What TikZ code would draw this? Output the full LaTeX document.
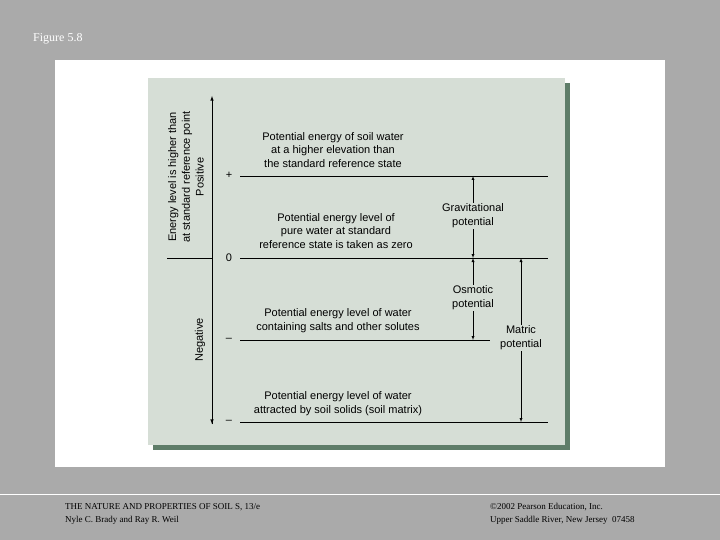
\documentclass[tikz,border=0pt]{standalone}
\usepackage{fontspec}
\setmainfont{Liberation Sans}
\newfontfamily\serif{Liberation Serif}
\definecolor{bgg}{RGB}{170,170,170}
\definecolor{panel}{RGB}{214,222,214}
\definecolor{shadow}{RGB}{95,125,105}
\begin{document}
\begin{tikzpicture}[x=1pt,y=-1pt,
 lab/.style={align=center,font=\fontsize{11}{13.8}\selectfont,inner sep=1pt},
 foot/.style={font=\serif\fontsize{9}{10}\selectfont,anchor=west,inner sep=0pt},
 lvl/.style={line width=0.8pt},
 dim/.style={-latex,line width=0.4pt}]
\useasboundingbox (0,0) rectangle (720,540);
\fill[bgg] (0,0) rectangle (720,540);
\fill[white] (55,60) rectangle (665,467);
\fill[shadow] (153,83) rectangle (570,450);
\fill[panel] (148,78) rectangle (565,445);
\draw[white,line width=0.6pt] (0,494) -- (720,494);
\node[foot,text=white,font=\serif\fontsize{12}{13}\selectfont] (fig) at (33,39) {Figure 5.8};
\node[foot] (f1) at (65,507) {THE NATURE AND PROPERTIES OF SOIL S, 13/e};
\node[foot] (f2) at (65,520) {Nyle C. Brady and Ray R. Weil};
\node[foot] (f3) at (490,507) {\textcopyright2002 Pearson Education, Inc.};
\node[foot] (f4) at (490,520) {Upper Saddle River, New Jersey\ \ 07458};
% axis
\coordinate (atop) at (212,96);
\coordinate (abot) at (212,424);
\draw[-latex,line width=0.6pt] (abot) -- (atop);
\draw[-latex,line width=0.6pt] (212,258) -- (abot);
% levels
\coordinate (p1) at (240,176); \coordinate (p2) at (548,176);
\coordinate (z1) at (240,258); \coordinate (z2) at (548,258);
\coordinate (s1) at (240,340); \coordinate (s2) at (490,340);
\coordinate (m1) at (240,422); \coordinate (m2) at (548,422);
\draw[lvl] (p1) -- (p2); \draw[lvl] (z1) -- (z2); \draw[lvl] (s1) -- (s2); \draw[lvl] (m1) -- (m2);
\draw[lvl] (167,258) -- (212,258);
\node[lab] (plus) at (229,175) {+};
\node[lab] (zero) at (229,258) {0};
\node[lab] (min1) at (229,340) {--};
\node[lab] (min2) at (229,422) {--};
\node[lab] (t1) at (333,150) {Potential energy of soil water\\at a higher elevation than\\the standard reference state};
\node[lab] (t2) at (336,231) {Potential energy level of\\pure water at standard\\reference state is taken as zero};
\node[lab] (t3) at (338,321) {Potential energy level of water\\containing salts and other solutes};
\node[lab] (t4) at (338,404) {Potential energy level of water\\attracted by soil solids (soil matrix)};
\node[lab,rotate=90] (pos) at (186,177) {Energy level is higher than\\at standard reference point\\Positive};
\node[lab,rotate=90] (neg) at (200,340) {Negative};
% dimension arrows
\node[lab] (grav) at (473,216) {Gravitational\\potential};
\node[lab] (osm) at (473,298) {Osmotic\\potential};
\node[lab] (mat) at (521,338) {Matric\\potential};
\draw[dim] (grav) -- (473,176); \draw[dim] (grav) -- (473,258);
\draw[dim] (osm) -- (473,258); \draw[dim] (osm) -- (473,340);
\draw[dim] (mat) -- (521,258); \draw[dim] (mat) -- (521,422);
\end{tikzpicture}
\end{document}
